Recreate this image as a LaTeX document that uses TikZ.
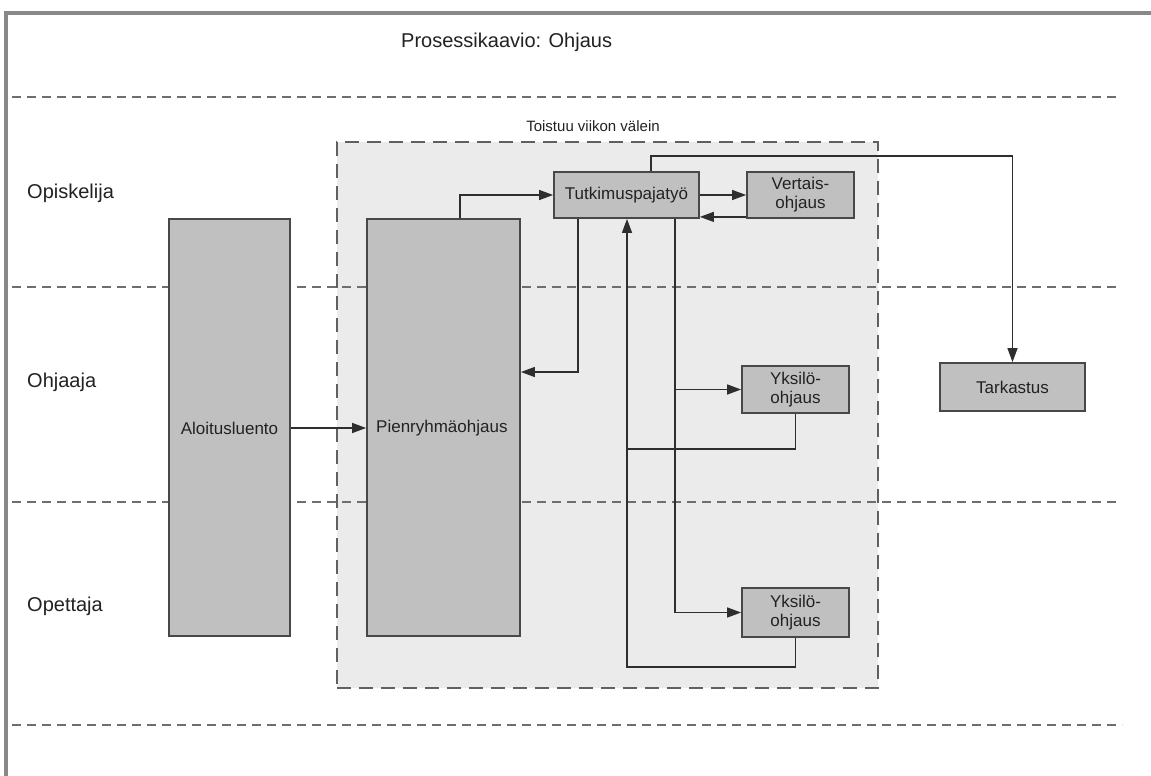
\documentclass[tikz,border=0pt]{standalone}
\usepackage{fontspec}
\setmainfont{Liberation Sans}
\usetikzlibrary{arrows.meta}
\definecolor{boxfill}{HTML}{C0C0C0}
\definecolor{boxline}{HTML}{484848}
\definecolor{lin}{HTML}{2E2E2E}
\definecolor{txt}{HTML}{222222}
\definecolor{lanec}{HTML}{6E6E6E}
\definecolor{grpfill}{HTML}{EBEBEB}
\definecolor{grpline}{HTML}{606060}
\definecolor{framec}{HTML}{888888}
\begin{document}
\begin{tikzpicture}[x=1pt,y=-1pt,
  box/.style={draw=boxline, fill=boxfill, line width=1.8pt, inner sep=0pt, align=center,
    font=\fontsize{17}{19}\selectfont, text=txt},
  arr/.style={draw=lin, line width=1.3pt, -{Triangle[length=14pt,width=10pt]}},
  ln/.style={draw=lin, line width=1.3pt},
  lane/.style={draw=lanec, line width=1.6pt, dash pattern=on 9pt off 6pt},
  grp/.style={draw=grpline, fill=grpfill, line width=2pt, dash pattern=on 14pt off 8pt},
  lbl/.style={anchor=west, inner sep=0pt, text=txt, font=\fontsize{20}{22}\selectfont}
]
\useasboundingbox (0,0) rectangle (1151,776);
\fill[white] (0,0) rectangle (1151,776);
% frame
\draw[line width=4pt, color=framec] (6,776) -- (6,13) -- (1151,13);

% title
\node[lbl] (title) at (401,42) {Prosessikaavio: Ohjaus};

% group box
\node[grp, minimum width=541pt, minimum height=546pt, inner sep=0pt] (grp) at (607.5,415) {};
\node[inner sep=0pt, text=txt, font=\fontsize{15}{17}\selectfont] (grplbl) at (593,126) {Toistuu viikon välein};

% lane separators
\draw[lane] (12,97) -- (1120,97);
\draw[lane] (12,287) -- (1120,287);
\draw[lane] (12,502) -- (1120,502);
\draw[lane] (12,725) -- (1122,725);

% lane labels
\node[lbl] (l1) at (27,193) {Opiskelija};
\node[lbl] (l2) at (27,382) {Ohjaaja};
\node[lbl] (l3) at (27,606) {Opettaja};

% nodes
\node[box, minimum width=121pt, minimum height=417pt] (alo) at (229.5,427.5) {};
\node[text=txt, font=\fontsize{17}{19}\selectfont, inner sep=0pt] (alot) at (229.5,428) {Aloitusluento};
\node[box, minimum width=153pt, minimum height=417pt] (pien) at (443.5,427.5) {};
\node[text=txt, font=\fontsize{17}{19}\selectfont, inner sep=0pt, anchor=west] (pient) at (376,428) {Pienryhmäohjaus};
\node[box, minimum width=145pt, minimum height=46pt] (tutk) at (626.5,195) {Tutkimuspajatyö};
\node[box, minimum width=107pt, minimum height=46pt] (vert) at (800.5,195) {Vertais-\\ohjaus};
\node[box, minimum width=107pt, minimum height=47pt] (y1) at (795.5,389.5) {Yksilö-\\ohjaus};
\node[box, minimum width=107pt, minimum height=49pt] (y2) at (795.5,612.5) {Yksilö-\\ohjaus};
\node[box, minimum width=145pt, minimum height=48pt] (tark) at (1012.5,387) {Tarkastus};

% helper coordinates
\coordinate (cx460) at (460,0);
\coordinate (cx578) at (578,0);
\coordinate (cx675) at (675,0);
\coordinate (cx651) at (651,0);
\coordinate (cx627) at (627,0);
\coordinate (cy372) at (0,372);
\coordinate (cy449) at (0,449);
\coordinate (cy667) at (0,667);
\coordinate (cy156) at (0,156);

% connectors
\draw[arr] (alo.east |- alot) -- (pien.west |- alot);
\draw[arr] (pien.north -| cx460) |- (tutk.west);
\draw[arr] (tutk.east) -- (vert.west);
\draw[arr] ([yshift=2pt]vert.south west) -- ([yshift=2pt]tutk.south east);
\draw[arr] (tutk.south -| cx578) -- (cx578 |- cy372) -- (pien.east |- cy372);
\draw[arr] (tutk.south -| cx675) |- (y2.west);
\draw[arr] (cx675 |- y1.west) -- (y1.west);
\draw[ln] (y1.south) -- (y1.south |- cy449) -- (cx627 |- cy449);
\draw[arr] (y2.south) -- (y2.south |- cy667) -- (cx627 |- cy667) -- (tutk.south -| cx627);
\draw[arr] (tutk.north -| cx651) -- (cx651 |- cy156) -| (tark.north);
\end{tikzpicture}
\end{document}
